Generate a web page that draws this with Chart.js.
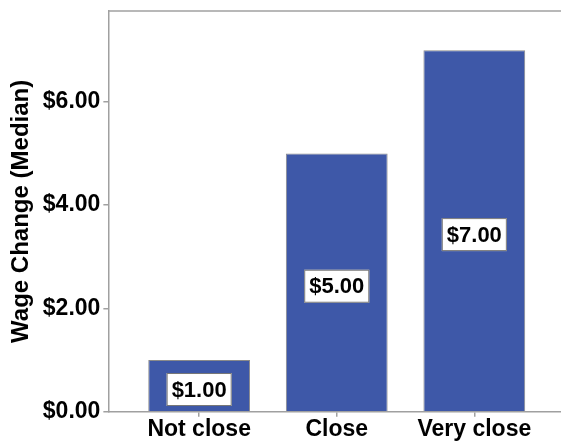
<!DOCTYPE html>
<html>
<head>
<meta charset="utf-8">
<script src="https://cdn.jsdelivr.net/npm/chart.js@4"></script>
<style>
  html, body { margin: 0; padding: 0; background: #fff; }
  #wrap { width: 561px; height: 442px; }
</style>
</head>
<body>
<div id="wrap"><canvas id="wageChart"></canvas></div>
<script>
const categories = ['Not close', 'Close', 'Very close'];
const medianWage = [1, 5, 7];
const yTicks = [0, 2, 4, 6];

const money = v => '$' + v.toFixed(2);
const FONT = '"Liberation Sans", Arial, sans-serif';

// white boxed value labels in the middle of each bar
const boxLabels = {
  id: 'boxLabels',
  afterDatasetsDraw(chart) {
    const ctx = chart.ctx;
    const meta = chart.getDatasetMeta(0);
    ctx.save();
    ctx.font = 'bold 22px ' + FONT;
    ctx.textAlign = 'center';
    ctx.textBaseline = 'middle';
    meta.data.forEach((bar, i) => {
      const txt = money(medianWage[i]);
      const cy = (bar.y + bar.base) / 2 + 4;
      const w = ctx.measureText(txt).width + 10;
      const h = 33;
      ctx.fillStyle = '#fff';
      ctx.fillRect(bar.x - w / 2, cy - h / 2, w, h);
      ctx.strokeStyle = '#777';
      ctx.lineWidth = 1;
      ctx.strokeRect(bar.x - w / 2 + 0.5, cy - h / 2 + 0.5, w - 1, h - 1);
      ctx.fillStyle = '#000';
      ctx.fillText(txt, bar.x, cy + 1);
    });
    ctx.restore();
  }
};

// top frame line
const topLine = {
  id: 'topLine',
  afterDraw(chart) {
    const a = chart.chartArea, ctx = chart.ctx;
    ctx.save();
    ctx.strokeStyle = '#a0a0a0';
    ctx.lineWidth = 1.5;
    ctx.beginPath();
    ctx.moveTo(a.left, a.top);
    ctx.lineTo(chart.width, a.top);
    ctx.stroke();
    ctx.restore();
  }
};

const noEdgePad = s => { s.paddingTop = 0; s.paddingBottom = 0; s.paddingLeft = 0; s.paddingRight = 0; };

new Chart(document.getElementById('wageChart'), {
  type: 'bar',
  data: {
    datasets: [{
      data: medianWage.map((v, i) => ({ x: i, y: v })),
      backgroundColor: '#3e58a8',
      borderColor: '#8a8a8a',
      borderWidth: 1,
      barPercentage: 0.74,
      categoryPercentage: 1
    }]
  },
  options: {
    responsive: true,
    maintainAspectRatio: false,
    animation: false,
    layout: { padding: { top: 11, right: 0, left: 7, bottom: 0 } },
    plugins: { legend: { display: false }, tooltip: { enabled: false } },
    scales: {
      x: {
        type: 'linear',
        offset: false,
        min: -0.66,
        max: 2.63,
        afterBuildTicks: s => { s.ticks = categories.map((c, i) => ({ value: i })); },
        afterFit: noEdgePad,
        ticks: {
          callback: v => categories[v],
          color: '#000',
          font: { family: FONT, size: 23, weight: 'bold', lineHeight: 1.1 },
          padding: 0,
          maxRotation: 0,
          autoSkip: false
        },
        grid: { offset: false, drawOnChartArea: false, tickLength: 5, color: '#a0a0a0', lineWidth: 1.5 },
        border: { color: '#a0a0a0', width: 1.5 }
      },
      y: {
        min: 0,
        max: 7.76,
        afterBuildTicks: s => { s.ticks = yTicks.map(v => ({ value: v })); },
        afterFit: noEdgePad,
        ticks: {
          callback: v => money(v),
          color: '#000',
          font: { family: FONT, size: 23, weight: 'bold' },
          padding: 3
        },
        grid: { drawOnChartArea: false, tickLength: 5, color: '#a0a0a0', lineWidth: 1.5 },
        border: { color: '#a0a0a0', width: 1.5 },
        title: {
          display: true,
          text: 'Wage Change (Median)',
          color: '#000',
          font: { family: FONT, size: 24, weight: 'bold' },
          padding: { top: 0, bottom: 4 }
        }
      }
    }
  },
  plugins: [boxLabels, topLine]
});
</script>
</body>
</html>
